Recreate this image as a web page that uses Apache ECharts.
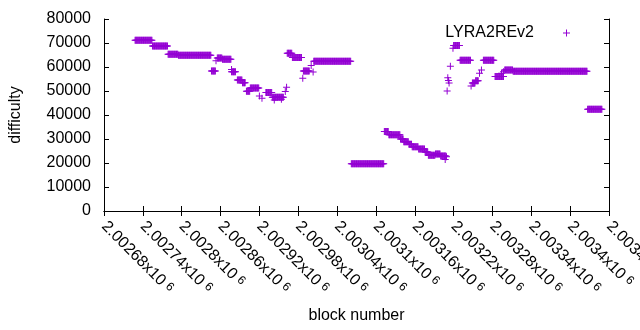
<!DOCTYPE html>
<html>
<head>
<meta charset="utf-8">
<script src="https://cdn.jsdelivr.net/npm/echarts@6/dist/echarts.min.js"></script>
<style>
  html, body { margin: 0; padding: 0; background: #fff; }
  #chart { width: 640px; height: 330px; }
</style>
</head>
<body>
<div id="chart"></div>
<script>
// difficulty held constant over runs of blocks: first block, last block, difficulty
const runFirst = [
  2002728, 2002755, 2002779, 2002795, 2002846, 2002853, 2002855, 2002863, 2002877, 2002877,
  2002886, 2002894, 2002900, 2002906, 2002920, 2002924, 2002930, 2002940, 2002943, 2002954,
  2002960, 2002962, 2002963, 2002971, 2002987, 2002988, 2003000, 2003003, 2003004, 2003062,
  2003113, 2003120, 2003138, 2003143, 2003151, 2003156, 2003166, 2003176, 2003181, 2003192,
  2003200, 2003207, 2003209, 2003210, 2003211, 2003212, 2003213, 2003215, 2003219, 2003220,
  2003230, 2003247, 2003249, 2003254, 2003260, 2003263, 2003266, 2003284, 2003294, 2003297,
  2003299, 2003312, 2003427
];
const runLast = [
  2002754, 2002778, 2002794, 2002845, 2002852, 2002853, 2002862, 2002876, 2002877, 2002883,
  2002893, 2002898, 2002905, 2002919, 2002920, 2002924, 2002939, 2002957, 2002943, 2002954,
  2002960, 2002962, 2002970, 2002985, 2002987, 2002997, 2003000, 2003003, 2003061, 2003112,
  2003119, 2003137, 2003142, 2003150, 2003155, 2003165, 2003175, 2003180, 2003191, 2003199,
  2003208, 2003207, 2003209, 2003210, 2003211, 2003212, 2003213, 2003215, 2003219, 2003229,
  2003246, 2003247, 2003253, 2003258, 2003260, 2003263, 2003282, 2003297, 2003294, 2003297,
  2003311, 2003426, 2003449
];
const runValue = [
  71100, 68700, 65300, 64900, 58300, 62600, 63800, 63200, 59000, 58000,
  54600, 53400, 49900, 51200, 47900, 47000, 49400, 47400, 46300, 46600,
  49800, 51600, 65700, 64000, 55300, 58300, 60600, 57900, 62400, 19700,
  33100, 31800, 30000, 28900, 27800, 26800, 25800, 24600, 23200, 23700,
  22900, 21500, 22600, 50000, 55500, 54400, 53300, 60300, 67800, 69000,
  62800, 52100, 53300, 54300, 57400, 58800, 62800, 56000, 57400, 58000,
  58800, 58200, 42400
];
const yTicks = [0, 10000, 20000, 30000, 40000, 50000, 60000, 70000, 80000];
const xMin = 2002680;
const xMax = 2003460;
const xStep = 60;

const seriesName = 'LYRA2REv2';
const purple = '#9400d3';
const plus = 'path://M0,3H3V0H4V3H7V4H4V7H3V4H0Z';

// one point per block inside each run
const points = [];
runFirst.forEach((first, i) => {
  for (let b = first; b <= runLast[i]; b++) {
    points.push([b, runValue[i]]);
  }
});

const font = 'Liberation Sans, Arial, sans-serif';
const chart = echarts.init(document.getElementById('chart'), null, { renderer: 'canvas' });

const xLabel = v => {
  const s = Number((v / 1e6).toFixed(5)).toString();
  return '{m|' + s + 'x10}{e|6}';
};

const option = {
  animation: false,
  backgroundColor: '#fff',
  grid: { left: 104, right: 31, top: 19, bottom: 119, outerBoundsMode: 'none', containLabel: false },
  legend: {
    data: [seriesName],
    right: 65,
    top: 20,
    align: 'right',
    itemWidth: 7,
    itemHeight: 7,
    textStyle: { fontFamily: font, fontSize: 16, color: '#000', padding: [0, 24, 0, 0] }
  },
  xAxis: [
    {
      type: 'value',
      min: xMin,
      max: xMax,
      interval: xStep,
      name: 'block number',
      nameLocation: 'middle',
      nameGap: 97,
      nameTextStyle: { fontFamily: font, fontSize: 16, color: '#000' },
      axisLine: { show: true, lineStyle: { color: '#000', width: 1 } },
      axisTick: { show: true, inside: true, length: 5, lineStyle: { color: '#000' } },
      splitLine: { show: false },
      axisLabel: {
        rotate: -45,
        margin: 13,
        showMinLabel: true,
        showMaxLabel: true,
        formatter: xLabel,
        color: '#000',
        rich: {
          m: { fontFamily: font, fontSize: 16, color: '#000', verticalAlign: 'bottom' },
          e: { fontFamily: font, fontSize: 12, color: '#000', verticalAlign: 'top', padding: [0, 0, 0, 4] }
        }
      }
    },
    {
      type: 'value',
      position: 'top',
      min: xMin,
      max: xMax,
      interval: xStep,
      axisLine: { show: true, lineStyle: { color: '#000', width: 1 } },
      axisTick: { show: true, inside: true, length: 5, lineStyle: { color: '#000' } },
      axisLabel: { show: false },
      splitLine: { show: false }
    }
  ],
  yAxis: [
    {
      type: 'value',
      min: yTicks[0],
      max: yTicks[yTicks.length - 1],
      interval: yTicks[1] - yTicks[0],
      name: 'difficulty',
      nameLocation: 'middle',
      nameGap: 80,
      nameTextStyle: { fontFamily: font, fontSize: 16, color: '#000' },
      axisLine: { show: true, lineStyle: { color: '#000', width: 1 } },
      axisTick: { show: true, inside: true, length: 5, lineStyle: { color: '#000' } },
      splitLine: { show: false },
      axisLabel: {
        margin: 13,
        fontFamily: font,
        fontSize: 16,
        color: '#000',
        formatter: v => String(v)
      }
    },
    {
      type: 'value',
      position: 'right',
      min: yTicks[0],
      max: yTicks[yTicks.length - 1],
      interval: yTicks[1] - yTicks[0],
      axisLine: { show: true, lineStyle: { color: '#000', width: 1 } },
      axisTick: { show: true, inside: true, length: 5, lineStyle: { color: '#000' } },
      axisLabel: { show: false },
      splitLine: { show: false }
    }
  ],
  series: [
    {
      name: seriesName,
      type: 'scatter',
      xAxisIndex: 0,
      yAxisIndex: 0,
      symbol: plus,
      symbolSize: 7,
      itemStyle: { color: purple, opacity: 1 },
      data: points
    }
  ]
};

chart.setOption(option);
</script>
</body>
</html>
